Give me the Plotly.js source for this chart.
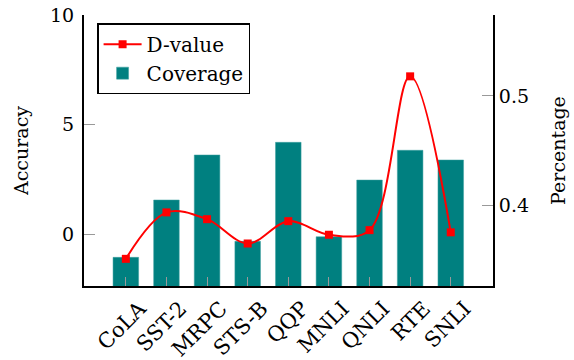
<!DOCTYPE html>
<html>
<head>
<meta charset="utf-8">
<script src="https://cdn.plot.ly/plotly-3.0.1.min.js"></script>
<style>html,body{margin:0;padding:0;background:#fff;}#chart{width:574px;height:360px;}</style>
</head>
<body>
<div id="chart"></div>
<script>
const categories = ["CoLA","SST-2","MRPC","STS-B","QQP","MNLI","QNLI","RTE","SNLI"];
const dValue = [-1.13, 0.99, 0.68, -0.43, 0.59, -0.03, 0.18, 7.2, 0.08];
const coverage = [0.352, 0.4046, 0.4459, 0.3667, 0.4575, 0.3709, 0.4229, 0.4502, 0.4413];
const leftTicks = [0, 5, 10];
const rightTicks = [0.4, 0.5];

const FONT = "DejaVu Serif";
const idx = categories.map((c, i) => i);

// Bars on the primary y axis (drawn first, placed on the right side),
// the D-value line on the overlaying axis (drawn on top, placed on the left side).
const traces = [
  {
    type: "scatter", mode: "lines+markers", name: "D-value",
    x: idx, y: dValue, yaxis: "y2",
    line: {color: "#ff0000", width: 2, shape: "spline", smoothing: 1},
    marker: {symbol: "square", size: 8, color: "#ff0000"}
  },
  {
    type: "bar", name: "Coverage",
    x: idx, y: coverage, yaxis: "y", width: 0.63,
    marker: {color: "#008080", line: {color: "#3fa0a0", width: 0.5}}
  }
];

const layout = {
  width: 574, height: 360,
  margin: {l: 84, r: 81, t: 15, b: 74},
  paper_bgcolor: "#fff", plot_bgcolor: "#fff",
  font: {family: FONT, size: 19, color: "#000"},
  showlegend: true,
  legend: {
    x: 0.032, y: 0.97, xanchor: "left", yanchor: "top",
    bordercolor: "#000", borderwidth: 1.5, bgcolor: "#fff",
    font: {family: FONT, size: 20}, traceorder: "normal",
    tracegroupgap: 2, itemwidth: 38
  },
  xaxis: {
    range: [-1.03, 9.04], tickmode: "array", tickvals: idx, ticktext: categories,
    tickangle: -45, ticks: "inside", ticklen: 9, tickcolor: "#999", tickwidth: 1,
    showline: true, linecolor: "#000", linewidth: 2, showgrid: false, zeroline: false,
    tickfont: {family: FONT, size: 21}, ticklabelshift: 14
  },
  yaxis: {
    side: "right",
    range: [0.3257, 0.5743], tickvals: rightTicks, ticktext: ["0.4", "0.5"],
    ticks: "inside", ticklen: 11, tickcolor: "#999", tickwidth: 1,
    showline: true, linecolor: "#000", linewidth: 2,
    showgrid: false, zeroline: false, tickfont: {family: FONT, size: 19},
    title: {text: "Percentage", font: {family: FONT, size: 19}, standoff: 24}
  },
  yaxis2: {
    overlaying: "y", side: "left",
    range: [-2.37, 10], tickvals: leftTicks, ticks: "inside", ticklen: 11,
    tickcolor: "#999", tickwidth: 1, showline: true, linecolor: "#000", linewidth: 2,
    showgrid: false, zeroline: false, tickfont: {family: FONT, size: 19},
    ticklabelstandoff: 4,
    title: {text: "Accuracy", font: {family: FONT, size: 19}, standoff: 16}
  }
};

Plotly.newPlot("chart", traces, layout, {displayModeBar: false, staticPlot: true});
</script>
</body>
</html>
